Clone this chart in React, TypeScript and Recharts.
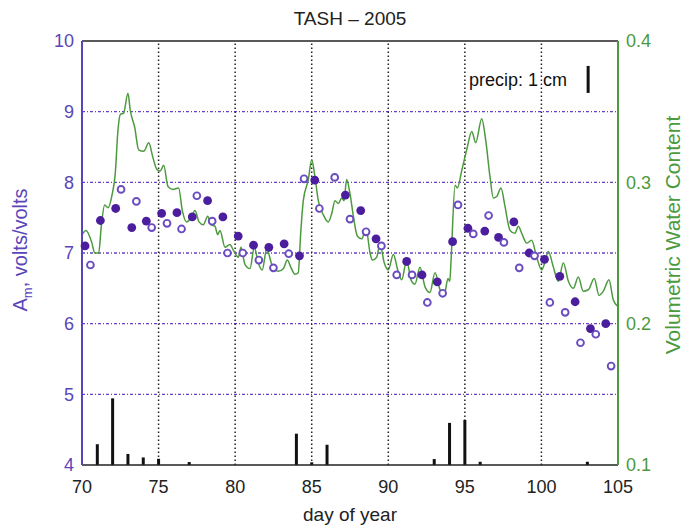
import React from 'react';
import { ComposedChart, Line, Scatter, XAxis, YAxis, ReferenceLine } from 'recharts';

const dayTicks = [70, 75, 80, 85, 90, 95, 100, 105];
const gridDays = [75, 80, 85, 90, 95, 100];
const amTicks = [4, 5, 6, 7, 8, 9, 10];
const amGrid = [5, 6, 7, 8, 9];
const vwcTicks = [0.1, 0.2, 0.3, 0.4];

// A_m, daily samples (filled / open markers)
const filledDays = [70.2, 71.2, 72.2, 73.25, 74.2, 75.2, 76.2, 77.2, 78.2, 79.2, 80.2, 81.2, 82.2, 83.2, 84.2, 85.2, 87.2, 88.2, 89.2, 91.2, 92.2, 93.2, 94.2, 95.2, 96.3, 97.2, 98.2, 99.2, 100.2, 101.2, 102.2, 103.2, 104.2];
const filledAm = [7.1, 7.46, 7.63, 7.36, 7.45, 7.56, 7.57, 7.51, 7.74, 7.51, 7.24, 7.11, 7.08, 7.13, 6.96, 8.03, 7.82, 7.6, 7.2, 6.88, 6.69, 6.59, 7.16, 7.35, 7.31, 7.22, 7.44, 7.0, 6.91, 6.67, 6.31, 5.93, 6.0];
const openDays = [70.55, 72.55, 73.55, 74.55, 75.55, 76.5, 77.5, 78.5, 79.5, 80.5, 81.55, 82.5, 83.5, 84.5, 85.5, 86.5, 87.5, 88.55, 89.55, 90.55, 91.55, 92.55, 93.55, 94.55, 95.55, 96.55, 97.55, 98.55, 99.55, 100.55, 101.55, 102.55, 103.55, 104.55];
const openAm = [6.83, 7.9, 7.73, 7.36, 7.42, 7.34, 7.81, 7.45, 7.0, 7.0, 6.9, 6.79, 6.99, 8.05, 7.63, 8.07, 7.48, 7.3, 7.1, 6.69, 6.69, 6.3, 6.43, 7.68, 7.27, 7.53, 7.15, 6.79, 6.96, 6.3, 6.16, 5.73, 5.85, 5.4];

// precipitation, cm (drawn on the A_m axis: 1 cm = 0.382 units above 4)
const precipDays = [71, 72, 73, 74, 75, 77, 84, 85, 86, 93, 94, 95, 96, 103];
const precipCm = [0.77, 2.47, 0.41, 0.28, 0.23, 0.11, 1.16, 0.1, 0.75, 0.22, 1.56, 1.67, 0.12, 0.12];
const CM_TO_AM = 0.382;

// volumetric water content
const vwcDays = [70.0, 70.26, 70.65, 70.83, 71.09, 71.26, 71.48, 71.7, 71.96, 72.17, 72.35, 72.5, 72.72, 73.0, 73.15, 73.44, 73.7, 74.03, 74.36, 74.62, 74.9, 75.11, 75.33, 75.62, 75.92, 76.31, 76.55, 76.84, 77.12, 77.38, 77.64, 77.92, 78.21, 78.42, 78.68, 78.86, 79.01, 79.34, 79.66, 79.88, 80.21, 80.38, 80.64, 80.97, 81.25, 81.51, 81.77, 82.06, 82.39, 82.82, 83.15, 83.41, 83.63, 83.91, 84.12, 84.28, 84.45, 84.78, 85.0, 85.21, 85.43, 85.76, 86.08, 86.31, 86.52, 86.74, 86.96, 87.11, 87.28, 87.5, 87.72, 87.98, 88.26, 88.55, 88.81, 88.96, 89.24, 89.46, 89.74, 90.0, 90.33, 90.62, 90.88, 91.2, 91.48, 91.74, 92.07, 92.4, 92.72, 93.05, 93.38, 93.65, 93.9, 94.02, 94.1, 94.36, 94.51, 94.81, 95.12, 95.45, 95.71, 96.1, 96.36, 96.64, 96.86, 97.08, 97.36, 97.62, 97.95, 98.27, 98.49, 98.71, 99.04, 99.36, 99.69, 100.02, 100.24, 100.45, 100.78, 101.1, 101.43, 101.76, 102.08, 102.41, 102.73, 103.06, 103.45, 103.76, 104.04, 104.41, 104.69, 105.0];
const vwc = [0.263, 0.266, 0.257, 0.25, 0.25, 0.269, 0.284, 0.282, 0.291, 0.306, 0.337, 0.348, 0.349, 0.363, 0.351, 0.339, 0.323, 0.322, 0.328, 0.318, 0.309, 0.308, 0.312, 0.297, 0.295, 0.296, 0.28, 0.272, 0.275, 0.28, 0.272, 0.27, 0.276, 0.27, 0.269, 0.263, 0.266, 0.254, 0.256, 0.252, 0.247, 0.254, 0.242, 0.239, 0.254, 0.243, 0.238, 0.253, 0.242, 0.237, 0.239, 0.245, 0.24, 0.235, 0.236, 0.264, 0.287, 0.302, 0.316, 0.304, 0.287, 0.277, 0.272, 0.278, 0.287, 0.285, 0.289, 0.287, 0.302, 0.292, 0.276, 0.262, 0.26, 0.267, 0.25, 0.245, 0.247, 0.256, 0.243, 0.238, 0.249, 0.238, 0.231, 0.245, 0.231, 0.228, 0.24, 0.226, 0.222, 0.236, 0.224, 0.22, 0.232, 0.23, 0.245, 0.298, 0.296, 0.309, 0.323, 0.336, 0.328, 0.345, 0.33, 0.304, 0.289, 0.29, 0.296, 0.283, 0.266, 0.264, 0.269, 0.264, 0.257, 0.259, 0.247, 0.238, 0.244, 0.251, 0.24, 0.23, 0.243, 0.23, 0.225, 0.233, 0.223, 0.224, 0.232, 0.22, 0.223, 0.231, 0.217, 0.212];

const PURPLE = '#4b1e9e';
const AXIS_PURPLE = '#5a45b8';
const GREEN = '#4c9a3e';
const FONT = '"Liberation Sans", Arial, sans-serif';

const filledData = filledDays.map((d, i) => ({ day: d, am: filledAm[i] }));
const openData = openDays.map((d, i) => ({ day: d, am: openAm[i] }));
const vwcData = vwcDays.map((d, i) => ({ day: d, vwc: vwc[i] }));

const OpenDot = (props: any) => (
  <circle cx={props.cx} cy={props.cy} r={3.4} fill="#fff" stroke="#6a4cc0" strokeWidth={1.9} />
);
const FilledDot = (props: any) => (
  <circle cx={props.cx} cy={props.cy} r={4.4} fill={PURPLE} />
);

export default function App() {
  return (
    <div style={{ position: 'relative', width: 688, height: 525, background: '#fff' }}>
      <style>{'body{margin:0}'}</style>
      <ComposedChart
        width={688}
        height={525}
        data={vwcData}
        margin={{ top: 41, right: 0, bottom: 0, left: 0 }}
        style={{ fontFamily: FONT }}
      >
        <XAxis
          dataKey="day"
          type="number"
          domain={[70, 105]}
          ticks={dayTicks}
          height={60}
          tickLine={false}
          tickSize={6}
          tickMargin={9}
          axisLine={{ stroke: '#222', strokeWidth: 1.5 }}
          tick={{ fill: '#222', fontSize: 18 }}
        />
        <YAxis
          yAxisId="left"
          domain={[4, 10]}
          ticks={amTicks}
          width={82}
          tickLine={false}
          tickSize={6}
          axisLine={{ stroke: AXIS_PURPLE, strokeWidth: 2 }}
          tick={{ fill: AXIS_PURPLE, fontSize: 18 }}
        />
        <YAxis
          yAxisId="right"
          orientation="right"
          domain={[0.1, 0.4]}
          ticks={vwcTicks}
          width={70}
          tickLine={false}
          tickSize={6}
          tickFormatter={(v: number) => v.toFixed(1)}
          axisLine={{ stroke: GREEN, strokeWidth: 2 }}
          tick={{ fill: GREEN, fontSize: 18 }}
        />

        {amGrid.map((v) => (
          <ReferenceLine key={'h' + v} yAxisId="left" y={v} stroke="#6b3fc4" strokeWidth={1.3} strokeDasharray="3 2 1 2" />
        ))}
        {gridDays.map((d) => (
          <ReferenceLine key={'v' + d} yAxisId="left" x={d} stroke="#222" strokeWidth={1.5} strokeDasharray="1.5 2.5" />
        ))}
        <ReferenceLine yAxisId="left" y={10} stroke="#222" strokeWidth={1.5} />

        {precipDays.map((d, i) => (
          <ReferenceLine
            key={'p' + d}
            yAxisId="left"
            segment={[{ x: d, y: 4 }, { x: d, y: 4 + precipCm[i] * CM_TO_AM }]}
            stroke="#111"
            strokeWidth={3}
          />
        ))}

        <Line
          yAxisId="right"
          dataKey="vwc"
          type="monotone"
          stroke={GREEN}
          strokeWidth={1.5}
          dot={false}
          activeDot={false}
          isAnimationActive={false}
        />
        <Scatter yAxisId="left" data={filledData} dataKey="am" shape={FilledDot} isAnimationActive={false} />
        <Scatter yAxisId="left" data={openData} dataKey="am" shape={OpenDot} isAnimationActive={false} />

        <ReferenceLine
          yAxisId="left"
          segment={[{ x: 103.05, y: 9.265 }, { x: 103.05, y: 9.265 + CM_TO_AM }]}
          stroke="#111"
          strokeWidth={3}
          label={{ value: 'precip: 1 cm', position: 'left', offset: 21, fill: '#111', fontSize: 18 }}
        />
      </ComposedChart>

      <svg width={688} height={525} style={{ position: 'absolute', left: 0, top: 0, pointerEvents: 'none', fontFamily: FONT }}>
        <text x={350} y={25} textAnchor="middle" fontSize={19} fill="#222">TASH – 2005</text>
        <text x={350} y={521} textAnchor="middle" fontSize={19} fill="#222">day of year</text>
        <text transform="translate(27,250) rotate(-90)" textAnchor="middle" fontSize={20} fill={AXIS_PURPLE}>
          A<tspan fontSize={13} dy={5}>m</tspan><tspan dy={-5}>, volts/volts</tspan>
        </text>
        <text transform="translate(680,235) rotate(-90)" textAnchor="middle" fontSize={21} fill={GREEN}>
          Volumetric Water Content
        </text>
      </svg>
    </div>
  );
}
